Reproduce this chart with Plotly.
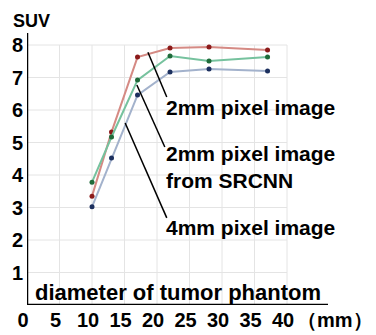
import plotly.graph_objects as go

diameters = [10, 13, 17, 22, 28, 37]
suv_2mm = [3.35, 5.32, 7.63, 7.91, 7.94, 7.85]
suv_srcnn = [3.78, 5.17, 6.92, 7.66, 7.51, 7.63]
suv_4mm = [3.02, 4.52, 6.46, 7.17, 7.26, 7.2]

x_ticks = [0, 5, 10, 15, 20, 25, 30, 35, 40]
y_ticks = [1, 2, 3, 4, 5, 6, 7, 8]

series = [
    ("2mm pixel image", suv_2mm, "#d58a84", "#8b1a1a"),
    ("2mm pixel image from SRCNN", suv_srcnn, "#76c29e", "#1f6b3a"),
    ("4mm pixel image", suv_4mm, "#a3b2cc", "#1c2f5e"),
]

fig = go.Figure()
for name, vals, lc, mc in series:
    fig.add_trace(go.Scatter(
        x=diameters, y=vals, mode="lines+markers", name=name,
        line=dict(color=lc, width=2),
        marker=dict(color=mc, size=5),
        showlegend=False,
    ))

FONT = "Liberation Sans"
TICK = dict(family=FONT, size=20, color="black", weight="bold")
TXT = dict(family=FONT, size=21, color="black", weight="bold")
fig.update_layout(
    width=376, height=335,
    margin=dict(l=19, r=56, t=25, b=38),
    paper_bgcolor="white", plot_bgcolor="white",
    xaxis=dict(range=[0, 46.3], tickvals=x_ticks, ticktext=[str(v) for v in x_ticks],
               showgrid=False, zeroline=False, showline=False, automargin=False,
               tickfont=TICK, ticklen=0, ticklabelstandoff=1, ticklabelshift=-4),
    yaxis=dict(range=[0, 8.37], tickvals=y_ticks, showgrid=False, zeroline=False,
               showline=False, automargin=False,
               tickfont=TICK, ticklen=0, ticklabelstandoff=3),
)

# gridlines (only up to 40 mm / SUV 8)
for v in x_ticks[1:]:
    fig.add_shape(type="line", x0=v, x1=v, y0=0, y1=8, xref="x", yref="y",
                  line=dict(color="#e4e4e4", width=1), layer="below")
for v in y_ticks:
    fig.add_shape(type="line", x0=0, x1=40, y0=v, y1=v, xref="x", yref="y",
                  line=dict(color="#e4e4e4", width=1), layer="below")

# axis lines
fig.add_shape(type="line", x0=0, x1=0, y0=0, y1=8.37, xref="x", yref="y",
              line=dict(color="black", width=2.5))
fig.add_shape(type="line", x0=0, x1=46.3, y0=0, y1=0, xref="x", yref="y",
              line=dict(color="black", width=2.5))

# leader lines
leaders = [((18.6, 7.78), (21.5, 6.4)), ((16.9, 6.77), (21.2, 4.86)), ((15.1, 5.6), (21.5, 2.68))]
for (xa, ya), (xb, yb) in leaders:
    fig.add_shape(type="line", x0=xa, y0=ya, x1=xb, y1=yb, xref="x", yref="y",
                  line=dict(color="black", width=1.5))

fig.add_annotation(x=21.5, y=6.09, xref="x", yref="y", text="2mm pixel image",
                   showarrow=False, xanchor="left", yanchor="middle", xshift=-3, font=TXT)
fig.add_annotation(x=21.5, y=4.26, xref="x", yref="y", text="2mm pixel image<br>from SRCNN",
                   showarrow=False, xanchor="left", yanchor="middle", align="left", xshift=-3, font=TXT)
fig.add_annotation(x=21.5, y=2.37, xref="x", yref="y", text="4mm pixel image",
                   showarrow=False, xanchor="left", yanchor="middle", xshift=-3, font=TXT)
fig.add_annotation(x=0.9, y=0.37, xref="x", yref="y", text="diameter of tumor phantom",
                   showarrow=False, xanchor="left", yanchor="middle",
                   font=dict(family=FONT, size=22, color="black", weight="bold"))
fig.add_annotation(x=1.0, xanchor="left", xshift=-33, y=0, yref="paper", yanchor="top", yshift=-2,
                   xref="paper", text="（mm）", showarrow=False, font=TICK)
fig.add_annotation(x=0, xanchor="left", xshift=-16, y=1, yref="paper", yanchor="bottom", yshift=0,
                   xref="paper", text="SUV", showarrow=False,
                   font=dict(family=FONT, size=18, color="black", weight="bold"))

fig.write_html("out.html")
